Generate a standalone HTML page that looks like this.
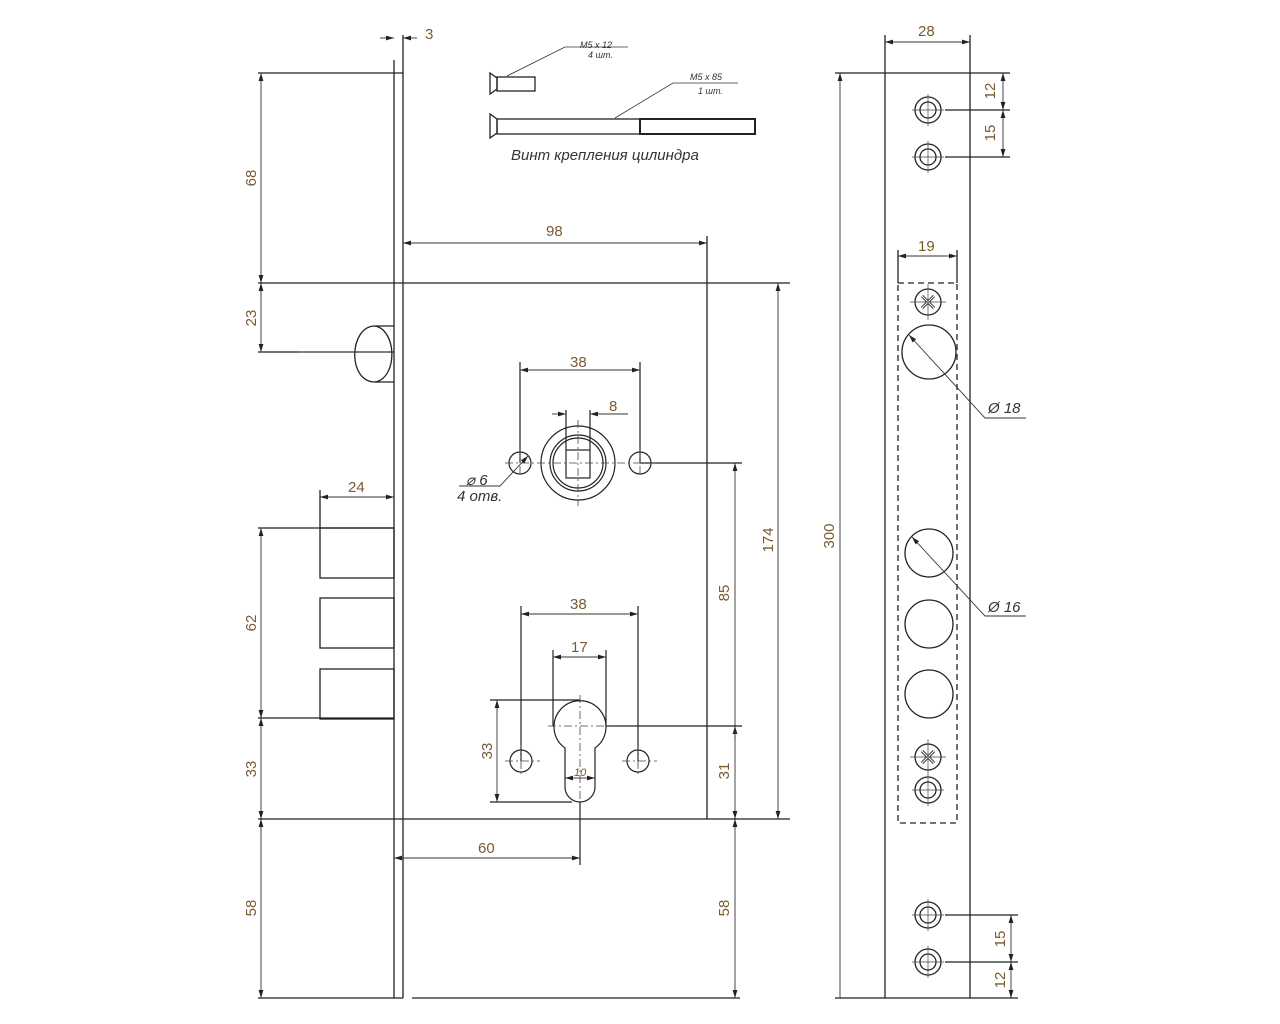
<!DOCTYPE html>
<html><head><meta charset="utf-8"><style>
html,body{margin:0;padding:0;background:#fff}
svg{display:block}
text{font-family:"Liberation Sans",sans-serif;font-size:15px;fill:#7a5a30}
.it{font-style:italic;fill:#333}
</style></head><body>
<svg width="1280" height="1024" viewBox="0 0 1280 1024" xmlns="http://www.w3.org/2000/svg">
<defs>
<marker id="a" viewBox="0 0 10 10" refX="10" refY="5" markerWidth="8" markerHeight="8" orient="auto-start-reverse" markerUnits="userSpaceOnUse"><path d="M0,2 L10,5 L0,8 z" fill="#222"/></marker>
</defs>
<g stroke="#222" stroke-width="1.3" fill="none">
<line x1="394" y1="60" x2="394" y2="998"/>
<line x1="403" y1="35" x2="403" y2="998"/>
<line x1="258" y1="73" x2="403" y2="73"/>
<line x1="258" y1="998" x2="403" y2="998"/>
<line x1="412" y1="998" x2="740" y2="998"/>
<line x1="258" y1="283" x2="790" y2="283"/>
<line x1="258" y1="819" x2="790" y2="819"/>
<line x1="707" y1="236" x2="707" y2="819"/>
<path d="M394,326 L375,326 C349,326 347,382 375,382 L394,382"/>
<path d="M375,326 C397,330 398,378 375,382"/>
<line x1="258" y1="352" x2="394" y2="352"/>
<rect x="320" y="528" width="74" height="50"/>
<rect x="320" y="598" width="74" height="50"/>
<rect x="320" y="669" width="74" height="50"/>
<line x1="258" y1="528" x2="394" y2="528"/>
<line x1="258" y1="718" x2="394" y2="718"/>
<line x1="320" y1="490" x2="320" y2="528"/>
</g>
<g stroke="#333" stroke-width="0.9" fill="none">
<line x1="261" y1="73" x2="261" y2="283" marker-start="url(#a)" marker-end="url(#a)"/>
<line x1="261" y1="283" x2="261" y2="352" marker-start="url(#a)" marker-end="url(#a)"/>
<line x1="261" y1="528" x2="261" y2="718" marker-start="url(#a)" marker-end="url(#a)"/>
<line x1="261" y1="718" x2="261" y2="819" marker-start="url(#a)" marker-end="url(#a)"/>
<line x1="261" y1="819" x2="261" y2="998" marker-start="url(#a)" marker-end="url(#a)"/>
<line x1="320" y1="497" x2="394" y2="497" marker-start="url(#a)" marker-end="url(#a)"/>
<line x1="380" y1="38" x2="394" y2="38" marker-end="url(#a)"/>
<line x1="417" y1="38" x2="403" y2="38" marker-end="url(#a)"/>
<line x1="403" y1="243" x2="707" y2="243" marker-start="url(#a)" marker-end="url(#a)"/>
<line x1="778" y1="283" x2="778" y2="819" marker-start="url(#a)" marker-end="url(#a)"/>
<line x1="735" y1="463" x2="735" y2="726" marker-start="url(#a)"/>
<line x1="735" y1="740" x2="735" y2="726" marker-end="url(#a)"/>
<line x1="735" y1="726" x2="735" y2="819" marker-end="url(#a)"/>
<line x1="735" y1="833" x2="735" y2="819" marker-end="url(#a)"/>
<line x1="735" y1="833" x2="735" y2="998" marker-end="url(#a)"/>
<line x1="394" y1="858" x2="580" y2="858" marker-start="url(#a)" marker-end="url(#a)"/>
</g>
<g stroke="#222" stroke-width="1.2" fill="none">
<line x1="640" y1="463" x2="742" y2="463"/>
<circle cx="578" cy="463" r="37"/>
<circle cx="578" cy="463" r="28"/>
<circle cx="578" cy="463" r="25"/>
<rect x="566" y="450" width="24" height="28"/>
<circle cx="520" cy="463" r="11"/>
<circle cx="640" cy="463" r="11"/>
<line x1="520" y1="362" x2="520" y2="463"/>
<line x1="640" y1="362" x2="640" y2="463"/>
<line x1="566" y1="410" x2="566" y2="450"/>
<line x1="590" y1="410" x2="590" y2="450"/>
<path d="M565,748 A26,26 0 1 1 595,748 L595,787 A15,15 0 0 1 565,787 Z"/>
<circle cx="521" cy="761" r="11"/>
<circle cx="638" cy="761" r="11"/>
<line x1="521" y1="606" x2="521" y2="761"/>
<line x1="638" y1="606" x2="638" y2="761"/>
<line x1="553" y1="650" x2="553" y2="726"/>
<line x1="606" y1="650" x2="606" y2="726"/>
<line x1="606" y1="726" x2="742" y2="726"/>
<line x1="490" y1="700" x2="580" y2="700"/>
<line x1="490" y1="802" x2="572" y2="802"/>
<line x1="580" y1="802" x2="580" y2="865"/>
</g>
<g stroke="#444" stroke-width="0.8" fill="none" stroke-dasharray="8,3,2,3">
<line x1="505" y1="463" x2="655" y2="463"/>
<line x1="578" y1="420" x2="578" y2="506"/>
<line x1="520" y1="450" x2="520" y2="476"/>
<line x1="640" y1="450" x2="640" y2="476"/>
<line x1="548" y1="726" x2="612" y2="726"/>
<line x1="580" y1="695" x2="580" y2="802"/>
<line x1="505" y1="761" x2="540" y2="761"/>
<line x1="622" y1="761" x2="657" y2="761"/>
<line x1="521" y1="745" x2="521" y2="777"/>
<line x1="638" y1="745" x2="638" y2="777"/>
<line x1="300" y1="352" x2="394" y2="352"/>
</g>
<g stroke="#333" stroke-width="0.9" fill="none">
<line x1="520" y1="370" x2="640" y2="370" marker-start="url(#a)" marker-end="url(#a)"/>
<line x1="552" y1="414" x2="566" y2="414" marker-end="url(#a)"/>
<line x1="628" y1="414" x2="590" y2="414" marker-end="url(#a)"/>
<line x1="521" y1="614" x2="638" y2="614" marker-start="url(#a)" marker-end="url(#a)"/>
<line x1="553" y1="657" x2="606" y2="657" marker-start="url(#a)" marker-end="url(#a)"/>
<line x1="497" y1="700" x2="497" y2="802" marker-start="url(#a)" marker-end="url(#a)"/>
<line x1="580" y1="778" x2="565" y2="778" marker-end="url(#a)"/>
<line x1="580" y1="778" x2="595" y2="778" marker-end="url(#a)"/>
<path d="M459,486 L500,486 L528,456" marker-end="url(#a)"/>
</g>
<g stroke="#222" stroke-width="1.3" fill="none">
<path d="M490,73 L497,78 L497,89 L490,94 Z"/>
<rect x="497" y="77" width="38" height="14"/>
<path d="M490,114 L497,119 L497,133 L490,138 Z"/>
<rect x="497" y="119" width="143" height="15"/>
<rect x="640" y="119" width="115" height="15" stroke-width="2"/>
</g>
<g stroke="#333" stroke-width="0.8" fill="none">
<path d="M507,76 L565,47 L628,47"/>
<path d="M615,118 L673,83 L738,83"/>
</g>
<text x="580" y="48" class="it" style="font-size:9px">M5 x 12</text>
<text x="588" y="58" class="it" style="font-size:9px">4 шт.</text>
<text x="690" y="80" class="it" style="font-size:9px">M5 x 85</text>
<text x="698" y="94" class="it" style="font-size:9px">1 шт.</text>
<text x="511" y="160" class="it" style="font-size:15px">Винт крепления цилиндра</text>
<g stroke="#222" stroke-width="1.3" fill="none">
<line x1="885" y1="35" x2="885" y2="998"/>
<line x1="970" y1="35" x2="970" y2="998"/>
<line x1="835" y1="73" x2="1010" y2="73"/>
<line x1="835" y1="998" x2="1018" y2="998"/>
<line x1="945" y1="110" x2="1010" y2="110"/>
<line x1="945" y1="157" x2="1010" y2="157"/>
<line x1="945" y1="915" x2="1018" y2="915"/>
<line x1="945" y1="962" x2="1018" y2="962"/>
<circle cx="928" cy="110" r="13"/><circle cx="928" cy="110" r="8"/>
<circle cx="928" cy="157" r="13"/><circle cx="928" cy="157" r="8"/>
<circle cx="928" cy="915" r="13"/><circle cx="928" cy="915" r="8"/>
<circle cx="928" cy="962" r="13"/><circle cx="928" cy="962" r="8"/>
<rect x="898" y="283" width="59" height="540" stroke-dasharray="6,4"/>
<line x1="898" y1="250" x2="898" y2="283"/>
<line x1="957" y1="250" x2="957" y2="283"/>
<circle cx="928" cy="302" r="13"/>
<path d="M922,296 L934,308 M934,296 L922,308" stroke-width="3"/>
<path d="M922,296 L934,308 M934,296 L922,308" stroke="#fff" stroke-width="1.2"/>
<circle cx="929" cy="352" r="27"/>
<circle cx="929" cy="553" r="24"/>
<circle cx="929" cy="624" r="24"/>
<circle cx="929" cy="694" r="24"/>
<circle cx="928" cy="757" r="13"/>
<path d="M922,751 L934,763 M934,751 L922,763" stroke-width="3"/>
<path d="M922,751 L934,763 M934,751 L922,763" stroke="#fff" stroke-width="1.2"/>
<circle cx="928" cy="790" r="13"/><circle cx="928" cy="790" r="8"/>
</g>
<g stroke="#444" stroke-width="0.7" fill="none">
<path d="M912,110h32M928,94v32M912,157h32M928,141v32M912,915h32M928,899v32M912,962h32M928,946v32M910,302h36M928,284v36M910,757h36M928,739v36M912,790h32M928,774v32"/>
</g>
<g stroke="#333" stroke-width="0.9" fill="none">
<line x1="885" y1="42" x2="970" y2="42" marker-start="url(#a)" marker-end="url(#a)"/>
<line x1="840" y1="998" x2="840" y2="73" marker-end="url(#a)"/>
<line x1="898" y1="256" x2="957" y2="256" marker-start="url(#a)" marker-end="url(#a)"/>
<line x1="1003" y1="73" x2="1003" y2="110" marker-start="url(#a)" marker-end="url(#a)"/>
<line x1="1003" y1="110" x2="1003" y2="157" marker-start="url(#a)" marker-end="url(#a)"/>
<line x1="1011" y1="915" x2="1011" y2="962" marker-start="url(#a)" marker-end="url(#a)"/>
<line x1="1011" y1="962" x2="1011" y2="998" marker-start="url(#a)" marker-end="url(#a)"/>
<path d="M1026,418 L985,418 L909,335" marker-end="url(#a)"/>
<path d="M1026,616 L985,616 L912,537" marker-end="url(#a)"/>
</g>
<text x="425" y="39">3</text>
<text x="546" y="236">98</text>
<text x="348" y="492">24</text>
<text x="570" y="367">38</text>
<text x="609" y="411">8</text>
<text x="570" y="609">38</text>
<text x="571" y="652">17</text>
<text x="574" y="776" class="it" style="font-size:11px;fill:#7a5a30">10</text>
<text x="478" y="853">60</text>
<text x="918" y="36">28</text>
<text x="918" y="251">19</text>
<text x="466" y="485" class="it">⌀ 6</text>
<text x="457" y="501" class="it">4 отв.</text>
<text x="988" y="413" class="it">Ø 18</text>
<text x="988" y="612" class="it">Ø 16</text>
<g>
<text transform="translate(256,178) rotate(-90)" text-anchor="middle">68</text>
<text transform="translate(256,318) rotate(-90)" text-anchor="middle">23</text>
<text transform="translate(256,623) rotate(-90)" text-anchor="middle">62</text>
<text transform="translate(256,769) rotate(-90)" text-anchor="middle">33</text>
<text transform="translate(256,908) rotate(-90)" text-anchor="middle">58</text>
<text transform="translate(492,751) rotate(-90)" text-anchor="middle">33</text>
<text transform="translate(773,540) rotate(-90)" text-anchor="middle">174</text>
<text transform="translate(729,593) rotate(-90)" text-anchor="middle">85</text>
<text transform="translate(729,771) rotate(-90)" text-anchor="middle">31</text>
<text transform="translate(729,908) rotate(-90)" text-anchor="middle">58</text>
<text transform="translate(834,536) rotate(-90)" text-anchor="middle">300</text>
<text transform="translate(995,91) rotate(-90)" text-anchor="middle">12</text>
<text transform="translate(995,133) rotate(-90)" text-anchor="middle">15</text>
<text transform="translate(1005,939) rotate(-90)" text-anchor="middle">15</text>
<text transform="translate(1005,980) rotate(-90)" text-anchor="middle">12</text>
</g>
</svg>
</body></html>
